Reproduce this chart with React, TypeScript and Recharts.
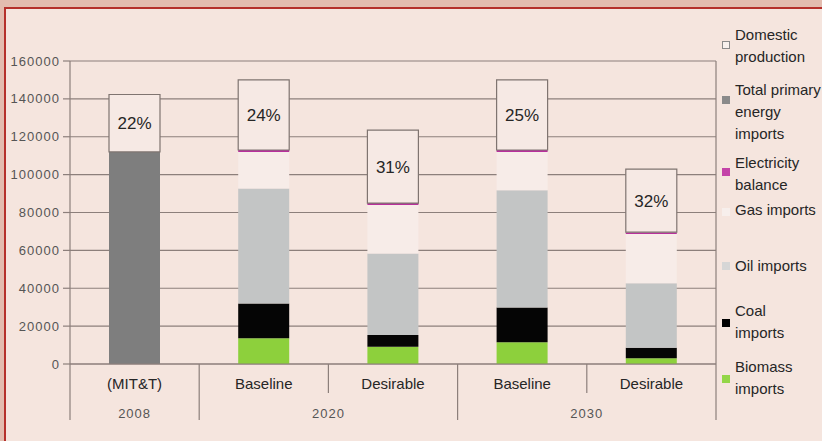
import React from 'react';
import { BarChart, Bar, XAxis, YAxis, CartesianGrid, LabelList } from 'recharts';

// ---- data ----
const scenarios = ['(MIT&T)', 'Baseline', 'Desirable', 'Baseline', 'Desirable'];
const years = ['2008', '2020', '2020', '2030', '2030'];
const biomassImports = [0, 13600, 9100, 11500, 3000];
const coalImports = [0, 18400, 6200, 18400, 5600];
const oilImports = [0, 60700, 43100, 61900, 34000];
const gasImports = [0, 19300, 25600, 20200, 26000];
const electricityBalance = [0, 1000, 1000, 1000, 1000];
const totalPrimaryImports = [112000, 0, 0, 0, 0];
const domesticProduction = [30300, 37000, 38500, 37000, 33300];
const domesticShare = ['22%', '24%', '31%', '25%', '32%'];
const yTicks = [0, 20000, 40000, 60000, 80000, 100000, 120000, 140000, 160000];

const legendLabels = [
  ['Domestic', 'production'],
  ['Total primary', 'energy', 'imports'],
  ['Electricity', 'balance'],
  ['Gas imports'],
  ['Oil imports'],
  ['Coal', 'imports'],
  ['Biomass', 'imports'],
];

// ---- styles / layout ----
const C = {
  outer: '#e3bcaf',
  panel: '#f5e5de',
  border: '#b5302b',
  grid: '#8c7f7b',
  domesticFill: '#f6e9e4',
  domesticStroke: '#7f7470',
  total: '#7e7e7e',
  elec: '#b8309c',
  gas: '#f7ece8',
  oil: '#c3c5c5',
  coal: '#050505',
  biomass: '#8dd03c',
  text: '#262626',
  tick: '#555555',
};
const legendMarkers = [
  { fill: '#f7f0ed', stroke: '#8a8a8a' },
  { fill: '#8a8a8a', stroke: 'none' },
  { fill: '#c443a8', stroke: 'none' },
  { fill: '#f7efec', stroke: 'none' },
  { fill: '#d6d6d6', stroke: 'none' },
  { fill: '#000000', stroke: 'none' },
  { fill: '#94d648', stroke: 'none' },
];
const legendTop = [24, 79, 152, 199, 255, 300, 356];
const markerTop = [41, 96, 168, 208, 262, 319, 375];

const data = scenarios.map((s, i) => ({
  scenario: s,
  year: years[i],
  biomass: biomassImports[i],
  coal: coalImports[i],
  oil: oilImports[i],
  gas: gasImports[i],
  elec: electricityBalance[i],
  total: totalPrimaryImports[i],
  domestic: domesticProduction[i],
  share: domesticShare[i],
}));

const SHORT_SEP = 29;
const LONG_SEP = 56;

const ScenarioTick = (props: any) => {
  const { x, y, payload, index } = props;
  const off = payload && payload.offset != null ? payload.offset : 0;
  const i = index as number;
  const groupStart = i === 0 || years[i] !== years[i - 1];
  const last = i === scenarios.length - 1;
  return (
    <g>
      <line x1={x - off} x2={x - off} y1={y} y2={y + (groupStart ? LONG_SEP : SHORT_SEP)} stroke={C.grid} strokeWidth={1.2} />
      {last && <line x1={x + off} x2={x + off} y1={y} y2={y + LONG_SEP} stroke={C.grid} strokeWidth={1.2} />}
      <text x={x} y={y + 19} textAnchor="middle" dominantBaseline="central" fill={C.text}
        style={{ fontFamily: 'Liberation Sans, Arial, sans-serif', fontSize: 15 }}>
        {payload.value}
      </text>
    </g>
  );
};

const YearTick = (props: any) => {
  const { x, y, payload, index } = props;
  const off = payload && payload.offset != null ? payload.offset : 0;
  const i = index as number;
  if (i > 0 && years[i] === years[i - 1]) return <g />;
  let n = 1;
  while (i + n < years.length && years[i + n] === years[i]) n++;
  const cx = x - off + n * off;
  return (
    <text x={cx} y={y + 19} textAnchor="middle" dominantBaseline="central" fill={C.tick}
      style={{ fontFamily: 'Liberation Sans, Arial, sans-serif', fontSize: 13, letterSpacing: 1 }}>
      {years[i]}
    </text>
  );
};

export default function App() {
  return (
    <div style={{ position: 'absolute', left: 0, top: 0, width: 822, height: 441, background: C.outer, overflow: 'hidden' }}>
      <div style={{ position: 'absolute', left: 4, top: 7, right: 0, bottom: 0, background: C.panel, borderLeft: `2px solid ${C.border}`, borderTop: `2px solid ${C.border}` }} />
      <div style={{ position: 'absolute', left: 0, top: 0 }}>
        <BarChart width={822} height={441} data={data} margin={{ top: 61, right: 105, bottom: 17, left: 0 }} barSize={51}>
          <CartesianGrid horizontal vertical={false} stroke={C.grid} strokeWidth={1.2} />
          <XAxis xAxisId="scn" dataKey="scenario" interval={0} height={30} tickSize={0} tickMargin={0}
            tickLine={false} axisLine={{ stroke: C.grid, strokeWidth: 1.2 }} tick={ScenarioTick} />
          <XAxis xAxisId="yr" dataKey="year" interval={0} height={30} tickSize={0} tickMargin={0}
            tickLine={false} axisLine={false} tick={YearTick} allowDuplicatedCategory />
          <YAxis domain={[0, 160000]} ticks={yTicks} interval={0} width={70} tickSize={7} tickMargin={3}
            axisLine={{ stroke: C.grid, strokeWidth: 1.2 }} tickLine={{ stroke: C.grid, strokeWidth: 1.2 }}
            tick={{ fill: C.tick, fontSize: 13, fontFamily: 'Liberation Sans, Arial, sans-serif', letterSpacing: 1 }} />
          <YAxis yAxisId="r" orientation="right" width={1} tick={false} tickLine={false}
            axisLine={{ stroke: C.grid, strokeWidth: 1.2 }} />
          <Bar xAxisId="scn" dataKey="biomass" stackId="a" fill={C.biomass} isAnimationActive={false} />
          <Bar xAxisId="scn" dataKey="coal" stackId="a" fill={C.coal} isAnimationActive={false} />
          <Bar xAxisId="scn" dataKey="oil" stackId="a" fill={C.oil} isAnimationActive={false} />
          <Bar xAxisId="scn" dataKey="gas" stackId="a" fill={C.gas} isAnimationActive={false} />
          <Bar xAxisId="scn" dataKey="elec" stackId="a" fill={C.elec} isAnimationActive={false} />
          <Bar xAxisId="scn" dataKey="total" stackId="a" fill={C.total} isAnimationActive={false} />
          <Bar xAxisId="scn" dataKey="domestic" stackId="a" fill={C.domesticFill} stroke={C.domesticStroke} strokeWidth={1.2} isAnimationActive={false}>
            <LabelList dataKey="share" position="center" fill={C.text}
              style={{ fontFamily: 'Liberation Sans, Arial, sans-serif', fontSize: 17 }} />
          </Bar>
        </BarChart>
      </div>
      {legendLabels.map((lines, k) => (
        <React.Fragment key={k}>
          <div style={{ position: 'absolute', left: 722, top: markerTop[k], width: 8, height: 8, boxSizing: 'border-box',
            background: legendMarkers[k].fill, border: legendMarkers[k].stroke === 'none' ? 'none' : `1px solid ${legendMarkers[k].stroke}` }} />
          <div style={{ position: 'absolute', left: 735, top: legendTop[k], fontFamily: 'Liberation Sans, Arial, sans-serif',
            fontSize: 15, lineHeight: '22px', color: C.text, whiteSpace: 'nowrap' }}>
            {lines.map((l, j) => <div key={j}>{l}</div>)}
          </div>
        </React.Fragment>
      ))}
    </div>
  );
}
